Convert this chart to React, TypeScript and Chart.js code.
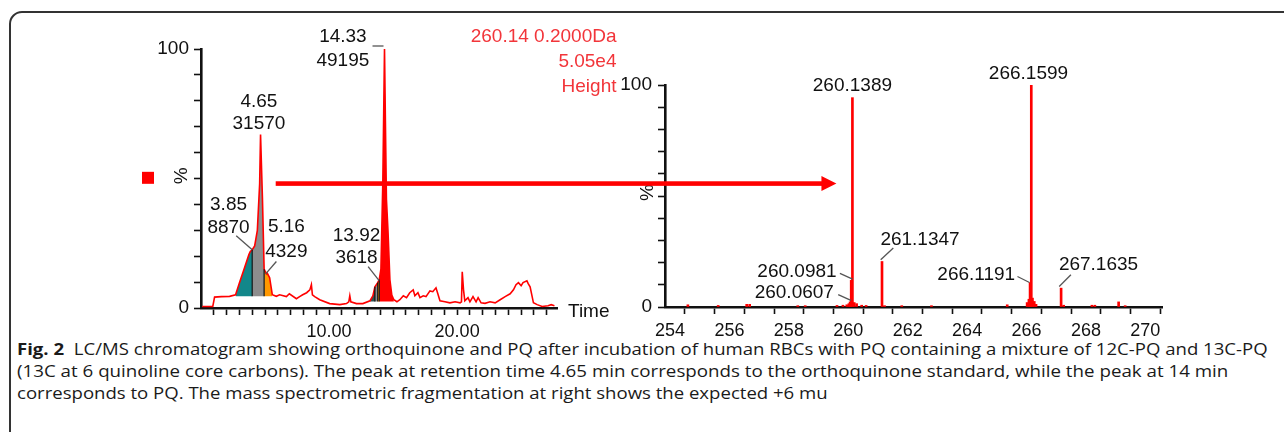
import React, { useEffect, useLayoutEffect, useRef } from 'react';
import { Chart, registerables } from 'chart.js';

Chart.register(...registerables);

const W = 1284;
const H = 432;
const SANS = '"Liberation Sans", Arial, Helvetica, sans-serif';

// ---------- Chromatogram (left) ----------
const chromTime = [
  0.09, 0.92, 1.06, 1.6, 2.23, 2.7, 3.01, 3.4, 3.74, 3.85,
  4.0, 4.19, 4.4, 4.58, 4.65, 4.8, 4.93, 5.1, 5.16, 5.36,
  5.57, 5.88, 6.14, 6.67, 6.9, 7.45, 7.7, 7.94, 8.25, 8.5,
  8.62, 8.7, 8.88, 9.27, 10.05, 10.84, 11.36, 11.54, 11.62, 11.7,
  12.14, 12.64, 13.2, 13.42, 13.58, 13.8, 13.92, 14.05, 14.2, 14.33,
  14.4, 14.48, 14.6, 14.75, 14.9, 15.06, 15.3, 15.53, 15.8, 16.05,
  16.3, 16.57, 16.7, 16.94, 17.1, 17.35, 17.57, 17.88, 18.1, 18.35,
  18.47, 18.66, 19.05, 19.44, 19.84, 20.23, 20.34, 20.4, 20.5, 20.6,
  20.85, 21.0, 21.24, 21.48, 21.64, 21.87, 22.18, 22.57, 22.97, 23.36,
  23.75, 24.14, 24.4, 24.6, 24.79, 25.0, 25.15, 25.45, 25.55, 25.7,
  25.96, 26.25, 26.64, 27.1, 27.35, 27.6,
];
const chromPct = [
  0.6, 0.6, 4.2, 4.4, 4.5, 5.1, 9.8, 15.5, 20.6, 21.8,
  22.5, 24, 30, 48, 67, 42, 15, 13.2, 13.6, 11.7,
  5.1, 4.5, 5.1, 4.4, 5.5, 3.6, 4.4, 5.1, 5.9, 7,
  9, 5.1, 4.4, 3.2, 1.7, 1.3, 1.7, 2.4, 4.7, 2.4,
  1.7, 1.7, 2.8, 4.7, 8.2, 9.8, 11, 15, 49, 100,
  72, 42, 30, 11, 5, 3.2, 2.4, 3.2, 4.7, 4,
  5.9, 7, 4.7, 5.9, 4, 4.7, 4.4, 6.6, 6.3, 7.8,
  5.9, 2.8, 2.4, 2, 2.4, 2, 2.4, 14, 7, 2.8,
  4, 2.4, 4.4, 2.4, 4, 2, 1.8, 2.4, 2, 3.2,
  4.4, 5.5, 7, 9, 9.8, 8.6, 9.8, 10.5, 9.4, 8.2,
  2, 1.3, 0.6, 0.9, 1.3, 0.9,
];

// integrated peak regions: [start, end, base %]
const tealSpan = [2.7, 4.0, 4.5];
const graySpan = [4.0, 4.93, 4.5];
const orangeSpan = [4.93, 5.57, 4.5];
const slateSpan = [13.2, 13.58, 2.5];
const gray2Span = [13.58, 13.8, 2.5];
const orange2Span = [13.8, 13.92, 2.5];
const pqSpan = [13.92, 15.06, 2.5];

const X_TICK_LABELS_LEFT = [10, 20];

// ---------- Mass spectrum (right) ----------
const msMz = [
  254.6, 255.62, 256.58, 256.68, 258.3, 258.55, 259.62, 259.82, 259.95, 260.02,
  260.0607, 260.0981, 260.1389, 260.2, 260.28, 260.45, 260.6, 261.1347, 261.22, 261.8,
  262.8, 265.35, 266.02, 266.08, 266.1191, 266.1599, 266.2, 266.26, 266.32, 267.1635,
  267.25, 268.2, 268.3, 269.1, 269.32,
];
const msInt = [
  1.0, 0.7, 1.2, 1.2, 0.6, 0.6, 0.7, 0.8, 1.0, 1.5,
  2.3, 12, 94.3, 2.0, 1.5, 0.8, 0.7, 20.5, 0.6, 0.6,
  0.6, 1.0, 2.0, 3.5, 11, 100, 4.0, 2.5, 1.2, 8.5,
  0.8, 0.8, 0.8, 2.3, 0.6,
];

const headerLines = ['260.14 0.2000Da', '5.05e4', 'Height'];

const captionLines = [
  { bold: 'Fig. 2', text: '  LC/MS chromatogram showing orthoquinone and PQ after incubation of human RBCs with PQ containing a mixture of 12C-PQ and 13C-PQ', width: 1251 },
  { bold: '', text: '(13C at 6 quinoline core carbons). The peak at retention time 4.65 min corresponds to the orthoquinone standard, while the peak at 14 min', width: 1211 },
  { bold: '', text: 'corresponds to PQ. The mass spectrometric fragmentation at right shows the expected +6 mu', width: 811 },
];

// annotation layout (positions relative to the anchored data point, in px)
const leftNotes = [
  { x: 4.65, y: 67, lines: ['4.65', '31570'], tx: -1.6, ty: [-33, -10.3], align: 'center', leader: null },
  { x: 14.33, y: 100, lines: ['14.33', '49195'], tx: -41.6, ty: [-12.3, 11.7], align: 'center', leader: [-12, -3, -1, -3] },
  { x: 4.0, y: 22.5, lines: ['3.85', '8870'], tx: -23.7, ty: [-45, -22], align: 'center', leader: [-16, -14, 0, 0] },
  { x: 5.05, y: 13.2, lines: ['5.16', '4329'], tx: 20.7, ty: [-47, -22.3], align: 'center', leader: [10.7, -12.3, 0, 0] },
  { x: 13.91, y: 10.6, lines: ['13.92', '3618'], tx: -22.6, ty: [-44.7, -22.7], align: 'center', leader: [-11, -14, 0, 0] },
];
const rightNotes = [
  { x: 260.1389, y: 94.3, text: '260.1389', tx: 0, ty: -11.7, align: 'center', leader: null },
  { x: 261.1347, y: 20.5, text: '261.1347', tx: 38, ty: -21.7, align: 'center', leader: [-1.3, -1.7, 11.3, -13.4] },
  { x: 260.0981, y: 12, text: '260.0981', tx: -14.6, ty: -8.9, align: 'right', leader: [-11.3, -6.9, 1.4, -1.2] },
  { x: 260.0607, y: 2.3, text: '260.0607', tx: -16.2, ty: -8.9, align: 'right', leader: [-11.9, -7.2, 0.8, -1.5] },
  { x: 266.1599, y: 100, text: '266.1599', tx: -2.8, ty: -11, align: 'center', leader: null },
  { x: 266.1191, y: 11, text: '266.1191', tx: -14.9, ty: -7.8, align: 'right', leader: [-12.6, -6.1, -0.6, -0.1] },
  { x: 267.1635, y: 8.5, text: '267.1635', tx: 37.4, ty: -23.4, align: 'center', leader: [-1.9, -1.7, 9.8, -13.4] },
];

const RED = '#ff0000';
const TEXT_RED = '#f2353a';
const LEADER = '#555';

function spanPoints(span: number[]) {
  const pts: { x: number; y: number }[] = [];
  chromTime.forEach((t, i) => {
    if (t >= span[0] - 1e-9 && t <= span[1] + 1e-9) pts.push({ x: t, y: chromPct[i] });
  });
  return pts;
}

function fillSet(span: number[], color: string) {
  return {
    data: spanPoints(span),
    borderColor: 'rgba(0,0,0,0)',
    borderWidth: 0,
    backgroundColor: color,
    pointRadius: 0,
    fill: { value: span[2] },
    tension: 0,
    order: 2,
  };
}

function valueAt(t: number) {
  const i = chromTime.findIndex((v) => Math.abs(v - t) < 1e-9);
  return i >= 0 ? chromPct[i] : 0;
}

const leftPlugin = {
  id: 'leftNotes',
  afterDatasetsDraw(chart: any) {
    const ctx = chart.ctx;
    const xs = chart.scales.x;
    const ys = chart.scales.y;
    ctx.save();
    ctx.strokeStyle = '#111';
    ctx.lineWidth = 1.2;
    const seps = [
      [tealSpan[1], tealSpan[2]],
      [graySpan[1], graySpan[2]],
      [gray2Span[0], gray2Span[2]],
      [orange2Span[0], orange2Span[2]],
      [orange2Span[1], orange2Span[2]],
    ];
    seps.forEach(([t, base]) => {
      const px = xs.getPixelForValue(t);
      ctx.beginPath();
      ctx.moveTo(px, ys.getPixelForValue(base));
      ctx.lineTo(px, ys.getPixelForValue(valueAt(t)));
      ctx.stroke();
    });
    ctx.restore();
  },
  afterDraw(chart: any) {
    const ctx = chart.ctx;
    const xs = chart.scales.x;
    const ys = chart.scales.y;
    const area = chart.chartArea;
    ctx.save();
    ctx.font = `19px ${SANS}`;
    ctx.textBaseline = 'middle';
    ctx.fillStyle = '#111';
    leftNotes.forEach((n) => {
      const px = xs.getPixelForValue(n.x);
      const py = ys.getPixelForValue(n.y);
      ctx.textAlign = n.align;
      n.lines.forEach((s, k) => ctx.fillText(s, px + n.tx, py + n.ty[k]));
      if (n.leader) {
        ctx.strokeStyle = LEADER;
        ctx.lineWidth = 1.3;
        ctx.beginPath();
        ctx.moveTo(px + n.leader[0], py + n.leader[1]);
        ctx.lineTo(px + n.leader[2], py + n.leader[3]);
        ctx.stroke();
      }
    });
    // header text (red)
    ctx.fillStyle = TEXT_RED;
    ctx.textAlign = 'right';
    headerLines.forEach((s, k) => ctx.fillText(s, 616.5, 37 + k * 25));
    // legend square
    ctx.fillStyle = RED;
    ctx.fillRect(area.left - 59, ys.getPixelForValue(52) - 1.5, 12, 12);
    // % label
    ctx.fillStyle = '#111';
    ctx.save();
    ctx.translate(area.left - 19, ys.getPixelForValue(51));
    ctx.rotate(-Math.PI / 2);
    ctx.textAlign = 'center';
    ctx.fillText('%', 0, 0);
    ctx.restore();
    // Time label
    ctx.textAlign = 'left';
    ctx.fillText('Time', area.right + 11, area.bottom + 4);
    ctx.restore();
  },
};

const rightPlugin = {
  id: 'rightNotes',
  afterDraw(chart: any) {
    const ctx = chart.ctx;
    const xs = chart.scales.x;
    const ys = chart.scales.y;
    const area = chart.chartArea;
    ctx.save();
    ctx.font = `19px ${SANS}`;
    ctx.textBaseline = 'middle';
    ctx.fillStyle = '#111';
    rightNotes.forEach((n) => {
      const px = xs.getPixelForValue(n.x);
      const py = ys.getPixelForValue(n.y);
      ctx.textAlign = n.align;
      ctx.fillText(n.text, px + n.tx, py + n.ty);
      if (n.leader) {
        ctx.strokeStyle = LEADER;
        ctx.lineWidth = 1.3;
        ctx.beginPath();
        ctx.moveTo(px + n.leader[0], py + n.leader[1]);
        ctx.lineTo(px + n.leader[2], py + n.leader[3]);
        ctx.stroke();
      }
    });
    // % label
    ctx.save();
    ctx.translate(area.left - 17, ys.getPixelForValue(51.5));
    ctx.rotate(-Math.PI / 2);
    ctx.textAlign = 'center';
    ctx.fillText('%', 0, 0);
    ctx.restore();
    // arrow from the chromatogram peak to the spectrum
    const ay = ys.getPixelForValue(55.6);
    const tip = xs.getPixelForValue(259.6);
    ctx.fillStyle = RED;
    ctx.fillRect(275.7, ay - 2.3, tip - 14 - 275.7, 4.6);
    ctx.beginPath();
    ctx.moveTo(tip - 15, ay - 7.5);
    ctx.lineTo(tip, ay);
    ctx.lineTo(tip - 15, ay + 7.5);
    ctx.closePath();
    ctx.fill();
    ctx.restore();
  },
};

function axisCommon() {
  return {
    grid: { display: true, drawOnChartArea: false, drawTicks: true, tickLength: 7, tickColor: '#111', tickWidth: 1.6 },
    border: { display: true, color: '#111', width: 2.6 },
  };
}

function LeftChart() {
  const ref = useRef<HTMLCanvasElement>(null);
  useEffect(() => {
    const points = chromTime.map((t, i) => ({ x: t, y: chromPct[i] }));
    const chart = new Chart(ref.current!, {
      type: 'line',
      data: {
        datasets: [
          { data: points, borderColor: RED, borderWidth: 1.6, pointRadius: 0, fill: false, tension: 0, order: 0 } as any,
          fillSet(pqSpan, RED),
          fillSet(tealSpan, '#12878a'),
          fillSet(graySpan, '#8d8d8d'),
          fillSet(orangeSpan, '#ff9800'),
          fillSet(slateSpan, '#2c5252'),
          fillSet(gray2Span, '#8d8d8d'),
          fillSet(orange2Span, '#ff9800'),
        ],
      },
      options: {
        animation: false,
        responsive: false,
        maintainAspectRatio: false,
        layout: { padding: { left: 141, right: W - 557, top: 49, bottom: H - 308 - 40 }, autoPadding: false } as any,
        plugins: { legend: { display: false }, tooltip: { enabled: false } },
        scales: {
          x: {
            type: 'linear',
            min: 0,
            max: 27.8,
            afterFit: (s: any) => { s.height = 40; },
            ...axisCommon(),
            ticks: {
              stepSize: 1,
              autoSkip: false,
              includeBounds: false,
              maxRotation: 0,
              padding: 6,
              color: '#111',
              font: { family: SANS, size: 18 },
              callback: (v: any) => (v === 0 ? null : X_TICK_LABELS_LEFT.includes(v) ? Number(v).toFixed(2) : ''),
            },
          },
          y: {
            type: 'linear',
            min: 0,
            max: 100,
            afterFit: (s: any) => { s.width = 60; },
            ...axisCommon(),
            ticks: {
              stepSize: 10,
              autoSkip: false,
              padding: 5,
              color: '#111',
              font: { family: SANS, size: 19 },
              callback: (v: any) => (v === 0 || v === 100 ? String(v) : ''),
            },
          },
        },
      } as any,
      plugins: [leftPlugin],
    });
    return () => chart.destroy();
  }, []);
  return <canvas ref={ref} width={W} height={H} style={{ position: 'absolute', left: 0, top: 0 }} />;
}

function RightChart() {
  const ref = useRef<HTMLCanvasElement>(null);
  useEffect(() => {
    const chart = new Chart(ref.current!, {
      type: 'bar',
      data: {
        datasets: [
          {
            data: msMz.map((m, i) => ({ x: m, y: msInt[i] })),
            backgroundColor: RED,
            borderWidth: 0,
            barThickness: 2,
            grouped: false,
          } as any,
        ],
      },
      options: {
        animation: false,
        responsive: false,
        maintainAspectRatio: false,
        layout: { padding: { left: 605, right: W - 1162, top: 85, bottom: H - 307 - 40 }, autoPadding: false } as any,
        plugins: { legend: { display: false }, tooltip: { enabled: false } },
        scales: {
          x: {
            type: 'linear',
            min: 253.83,
            max: 270.56,
            offset: false,
            afterFit: (s: any) => { s.height = 40; },
            ...axisCommon(),
            ticks: {
              stepSize: 1,
              autoSkip: false,
              includeBounds: false,
              maxRotation: 0,
              padding: 6,
              color: '#111',
              font: { family: SANS, size: 18 },
              callback: (v: any) => (Math.round(v) % 2 === 0 ? String(v) : ''),
            },
          },
          y: {
            type: 'linear',
            min: 0,
            max: 100,
            afterFit: (s: any) => { s.width = 60; },
            ...axisCommon(),
            ticks: {
              stepSize: 10,
              autoSkip: false,
              padding: 6,
              color: '#111',
              font: { family: SANS, size: 19 },
              callback: (v: any) => (v === 0 || v === 100 ? String(v) : ''),
            },
          },
        },
      } as any,
      plugins: [rightPlugin],
    });
    return () => chart.destroy();
  }, []);
  return <canvas ref={ref} width={W} height={H} style={{ position: 'absolute', left: 0, top: 0 }} />;
}

function Caption() {
  const r0 = useRef<HTMLDivElement>(null);
  const r1 = useRef<HTMLDivElement>(null);
  const r2 = useRef<HTMLDivElement>(null);
  const refs = [r0, r1, r2];
  useLayoutEffect(() => {
    const fit = () => {
      captionLines.forEach((ln, i) => {
        const el = refs[i].current;
        if (!el) return;
        el.style.transform = 'none';
        const w = el.scrollWidth;
        if (w > 0) el.style.transform = `scaleX(${ln.width / w})`;
      });
    };
    fit();
    if ((document as any).fonts && (document as any).fonts.ready) (document as any).fonts.ready.then(fit);
  }, []);
  return (
    <>
      {captionLines.map((ln, i) => (
        <div
          key={i}
          ref={refs[i]}
          style={{
            position: 'absolute',
            left: 17,
            top: 338 + i * 22,
            height: 22,
            lineHeight: '22px',
            whiteSpace: 'pre',
            fontFamily: '"Open Sans", "Noto Sans", sans-serif',
            fontSize: 15.5,
            color: '#1a1a1a',
            transformOrigin: 'left center',
            display: 'inline-block',
          }}
        >
          {ln.bold ? <b style={{ fontWeight: 700 }}>{ln.bold}</b> : null}
          {ln.text}
        </div>
      ))}
    </>
  );
}

export default function App() {
  return (
    <div style={{ position: 'absolute', left: 0, top: 0, width: W, height: H, overflow: 'hidden', background: '#fff' }}>
      <div
        style={{
          position: 'absolute',
          left: 9,
          top: 11,
          width: W + 40,
          height: H + 40,
          border: '2px solid #333',
          borderTopLeftRadius: 13,
          boxSizing: 'border-box',
        }}
      />
      <Caption />
      <LeftChart />
      <RightChart />
    </div>
  );
}
